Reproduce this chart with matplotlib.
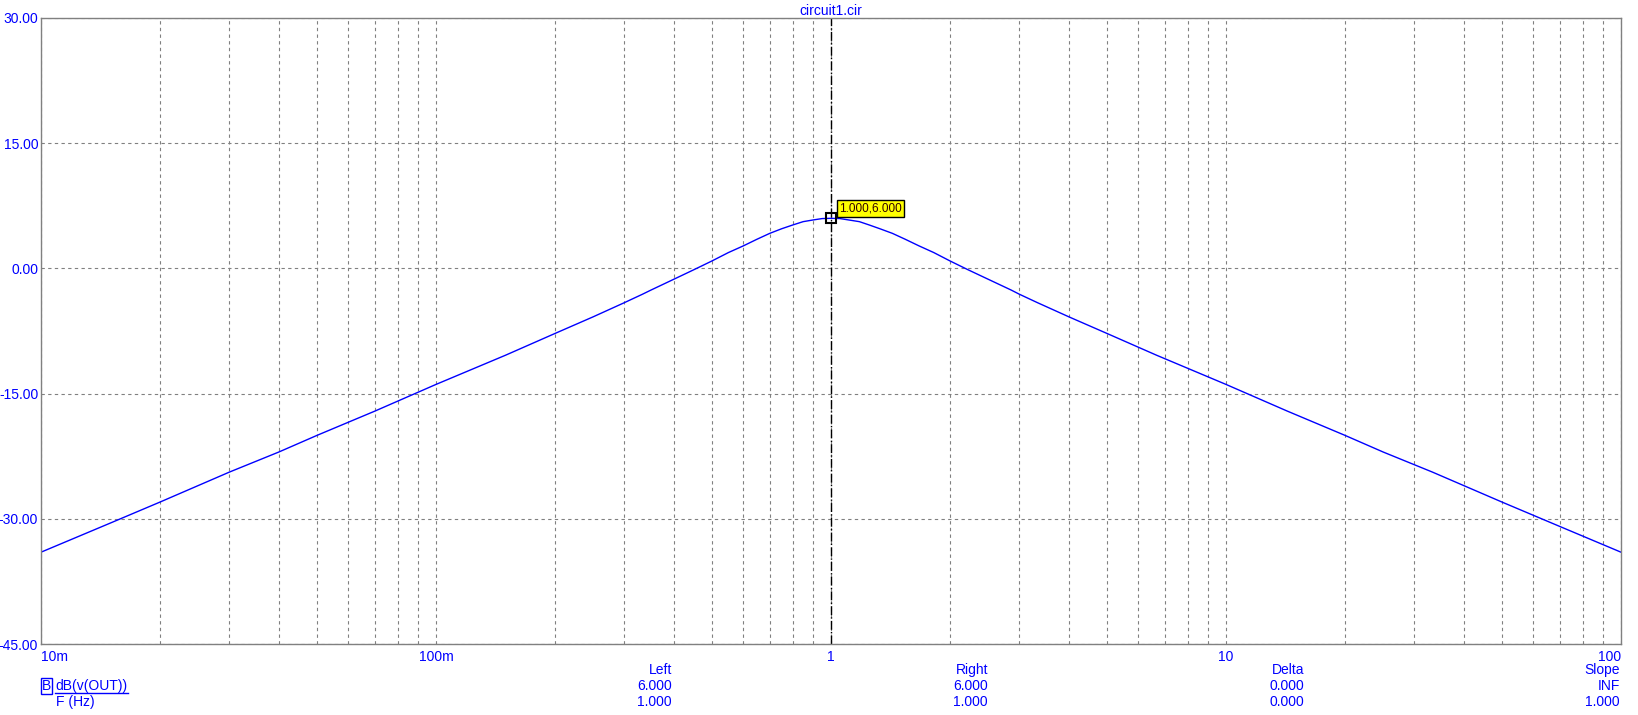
import matplotlib.pyplot as plt
from matplotlib.ticker import FixedLocator, NullFormatter
from matplotlib.lines import Line2D

plt.rcParams["font.family"] = ["Liberation Sans", "DejaVu Sans"]

# Frequency response (Hz, dB)
freq_hz = [0.01, 0.015, 0.02, 0.03, 0.04, 0.05, 0.07, 0.1, 0.15, 0.2, 0.25, 0.3,
           0.333, 0.35, 0.4, 0.45, 0.5, 0.55, 0.6, 0.65, 0.7, 0.75, 0.8, 0.85, 0.9,
           0.95, 1.0, 1.053, 1.11, 1.18, 1.25, 1.33, 1.43, 1.54, 1.67, 1.82, 2.0,
           2.22, 2.5, 2.86, 3.0, 3.33, 4.0, 5.0, 6.67, 10.0, 14.3, 20.0, 25.0, 33.3,
           50.0, 66.7, 100.0]
gain_db = [-34.0, -30.5, -28.0, -24.4, -22.0, -20.0, -17.1, -13.9, -10.4, -7.8, -5.8,
           -4.1, -3.1, -2.6, -1.3, -0.15, 0.9, 1.9, 2.7, 3.5, 4.2, 4.75, 5.2, 5.6, 5.8,
           5.97, 6.0, 5.97, 5.8, 5.6, 5.2, 4.75, 4.2, 3.5, 2.7, 1.9, 0.9, -0.15, -1.3,
           -2.6, -3.1, -4.1, -5.8, -7.8, -10.4, -13.9, -17.1, -20.0, -22.0, -24.4,
           -28.0, -30.5, -34.0]

x_ticks = [0.01, 0.1, 1, 10, 100]
x_labels = ["10m", "100m", "1", "10", "100"]
y_ticks = [-45, -30, -15, 0, 15, 30]

cursor_f = 1.0
cursor_db = 6.0

blue = "#0000ff"
grid_col = "#808080"
fs = 10

fig = plt.figure(figsize=(16.38, 7.15), dpi=100)
ax = fig.add_axes([41 / 1638, (715 - 644) / 715, (1621 - 41) / 1638, (644 - 18) / 715])

ax.plot(freq_hz, gain_db, color=blue, linewidth=1.0)

ax.set_xscale("log")
ax.set_xlim(0.01, 100)
ax.set_ylim(-45, 30)

ax.set_xticks(x_ticks)
ax.set_xticklabels(x_labels)
minor = [m * 10.0 ** e for e in range(-2, 2) for m in range(2, 10)]
ax.xaxis.set_minor_locator(FixedLocator(minor))
ax.xaxis.set_minor_formatter(NullFormatter())
ax.set_yticks(y_ticks)
ax.set_yticklabels([f"{v:.2f}" for v in y_ticks])

ax.tick_params(axis="both", which="both", length=0, labelsize=fs, labelcolor=blue)
ax.tick_params(axis="x", pad=4)
ax.tick_params(axis="y", pad=2)
labs = ax.get_xticklabels()
labs[0].set_ha("left")
labs[-1].set_ha("right")

ax.grid(True, which="both", color=grid_col, linestyle=(0, (3, 3)), linewidth=0.8)
for s in ax.spines.values():
    s.set_color(grid_col)
    s.set_linewidth(1.0)

ax.set_title("circuit1.cir", color=blue, fontsize=fs, pad=2)

# cursor
ax.axvline(cursor_f, color="black", linestyle="-.", linewidth=1.0)
ax.plot([cursor_f], [cursor_db], marker="s", markersize=7, markerfacecolor="none",
        markeredgecolor="black", markeredgewidth=1.5)
ax.annotate(f"{cursor_f:.3f},{cursor_db:.3f}", (cursor_f, cursor_db), xytext=(6, 5),
            textcoords="offset points", fontsize=8.5, color="#300000",
            bbox=dict(boxstyle="square,pad=0.2", facecolor="yellow", edgecolor="black", linewidth=1))

# readout rows below the plot
fig.text(42 / 1638, 1 - 686 / 715, "B", color=blue, fontsize=fs, va="center", ha="left",
         bbox=dict(boxstyle="square,pad=0.05", facecolor="none", edgecolor=blue, linewidth=1))
fig.text(55 / 1638, 1 - 686 / 715, "dB(v(OUT))", color=blue, fontsize=fs, va="center", ha="left")
fig.add_artist(Line2D([55 / 1638, 128 / 1638], [1 - 693 / 715, 1 - 693 / 715],
                      color=blue, linewidth=1))
fig.text(56 / 1638, 1 - 702 / 715, "F (Hz)", color=blue, fontsize=fs, va="center", ha="left")

cols = [("Left", "6.000", "1.000", 672),
        ("Right", "6.000", "1.000", 988),
        ("Delta", "0.000", "0.000", 1304),
        ("Slope", "INF", "1.000", 1620)]
for head, v1, v2, xr in cols:
    for txt, yy in [(head, 670), (v1, 686), (v2, 702)]:
        fig.text(xr / 1638, 1 - yy / 715, txt, color=blue, fontsize=fs, va="center", ha="right")

fig.savefig("out.png", dpi=100, facecolor="white")
